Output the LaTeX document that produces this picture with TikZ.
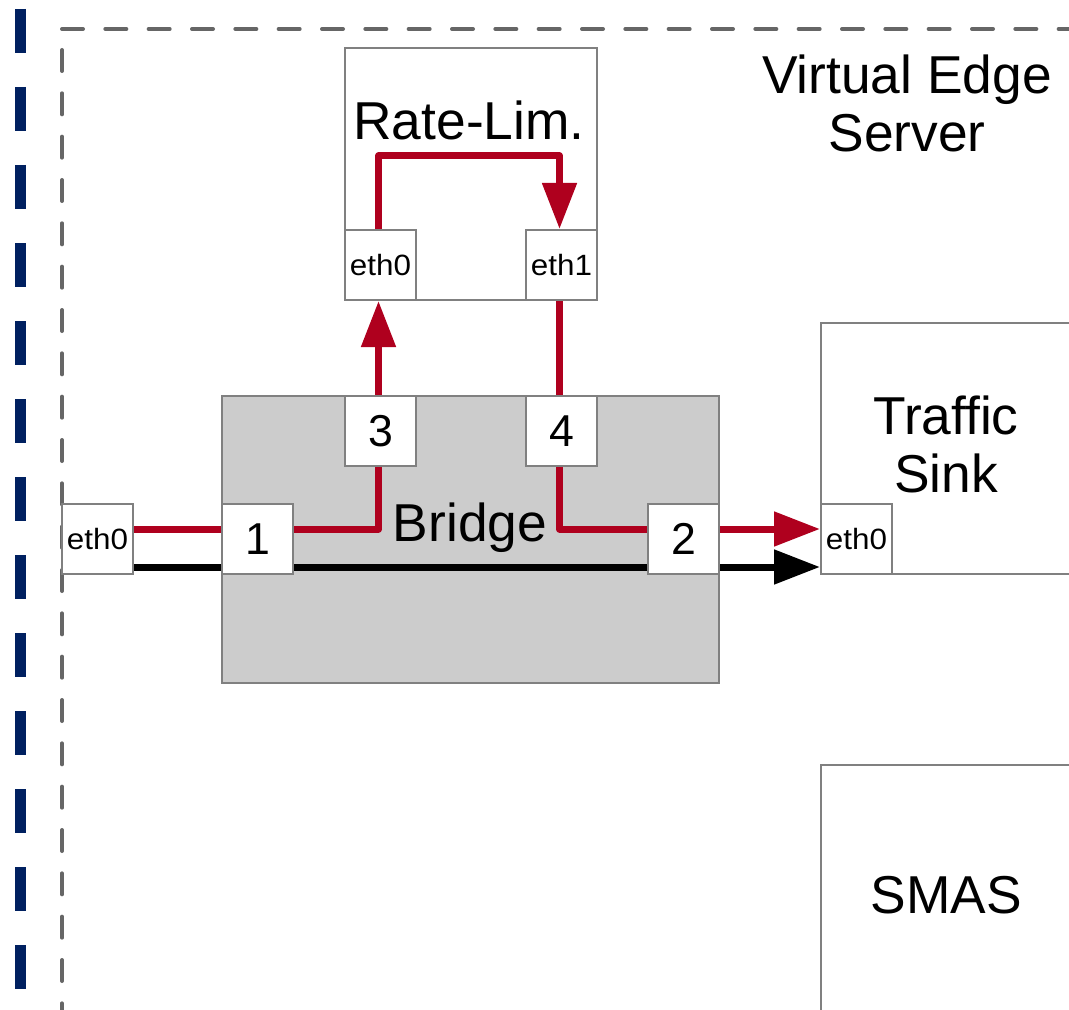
\documentclass[tikz,border=0pt]{standalone}
\usepackage{fontspec}
\setmainfont{Liberation Sans}
\usepackage{graphicx}
\usetikzlibrary{arrows.meta}
\definecolor{navy}{RGB}{0,32,96}
\definecolor{flowred}{RGB}{175,0,30}
\definecolor{boxgray}{RGB}{128,128,128}
\definecolor{framegray}{RGB}{102,102,102}
\definecolor{bridgefill}{RGB}{204,204,204}
\pgfdeclarelayer{bg}
\pgfdeclarelayer{mid}
\pgfsetlayers{bg,mid,main}
\begin{document}
\begin{tikzpicture}[x=0.75pt,y=-0.75pt,
  box/.style={draw=boxgray, line width=1.5pt, fill=white, rectangle, inner sep=0pt},
  port/.style={box, minimum width=53.25pt, minimum height=52.5pt, font=\fontsize{22pt}{24pt}\selectfont},
  numport/.style={box, minimum width=53.25pt, minimum height=52.5pt, font=\fontsize{33.5pt}{36pt}\selectfont},
  big/.style={font=\fontsize{40pt}{43.5pt}\selectfont, inner sep=0pt, align=center},
  flow/.style={draw=flowred, line width=5.25pt, line join=round, line cap=round},
  flowarrow/.style={flow, -{Triangle[length=34.5pt,width=25pt]}},
  blackflow/.style={draw=black, line width=5.25pt, line cap=round, -{Triangle[length=34.5pt,width=25pt]}},
  frameline/.style={draw=framegray, line width=3pt, line cap=round, dash pattern=on 15.75pt off 16.75pt},
  outerdash/.style={draw=navy, line width=8.25pt, dash pattern=on 33pt off 25.5pt}]
\useasboundingbox (0,0) rectangle (1069,1009);

\begin{pgfonlayer}{bg}
  \draw[outerdash] (20,9) -- (20,1030);
  \draw[frameline] (62,50) -- (62,1030);
  \draw[frameline] (62,29) -- (1090,29);
  \node[box, minimum width=189pt, minimum height=189pt] (rl) at (471,174) {};
  \node[box, fill=bridgefill, minimum width=372.75pt, minimum height=215.25pt] (bridge) at (470.5,539.5) {};
  \node[box, minimum width=209.25pt, minimum height=188.25pt] (ts) at (960.5,448.5) {};
  \node[box, minimum width=209.25pt, minimum height=213.75pt] (smas) at (960.5,907.5) {};
\end{pgfonlayer}

\node[big, anchor=base] (rllabel) at (469,140) {Rate-Lim.};
\node[big] (vlabel) at (907,103) {Virtual Edge\\Server};
\node[big] (tslabel) at (946,444.5) {Traffic\\Sink};
\node[big, anchor=base] (smaslabel) at (946,913) {SMAS};
\node[big, anchor=base] (bridgelabel) at (470,541) {Bridge};

\node[port] (rleth0) at (380.5,265) {\scalebox{1.07}[1]{eth0}};
\node[port] (rleth1) at (561.5,265) {\scalebox{1.07}[1]{eth1}};
\node[port] (leth0) at (97.5,539) {\scalebox{1.07}[1]{eth0}};
\node[port] (tseth0) at (856.5,539) {\scalebox{1.07}[1]{eth0}};
\node[numport] (p1) at (257.5,539) {1};
\node[numport] (p2) at (683.5,539) {2};
\node[numport] (p3) at (380.5,431) {3};
\node[numport] (p4) at (561.5,431) {4};

\begin{pgfonlayer}{mid}
  \draw[blackflow] ([yshift=-21pt]leth0.east) -- ([yshift=-21pt]tseth0.west);
  \draw[flow] ([yshift=7.5pt]leth0.east) -- ([yshift=7.5pt]p1.west);
  \draw[flow] ([yshift=7.5pt]p1.east) -| ([xshift=-1.5pt]p3.south);
  \draw[flowarrow] ([xshift=-1.5pt]p3.north) -- ([xshift=-1.5pt]rleth0.south);
  \draw[flowarrow] ([xshift=-1.5pt]rleth0.north) -- ++(0,-73) -| ([xshift=-1.5pt]rleth1.north);
  \draw[flow] ([xshift=-1.5pt]rleth1.south) -- ([xshift=-1.5pt]p4.north);
  \draw[flow] ([xshift=-1.5pt]p4.south) |- ([yshift=7.5pt]p2.west);
  \draw[flowarrow] ([yshift=7.5pt]p2.east) -- ([yshift=7.5pt]tseth0.west);
\end{pgfonlayer}
\end{tikzpicture}
\end{document}
